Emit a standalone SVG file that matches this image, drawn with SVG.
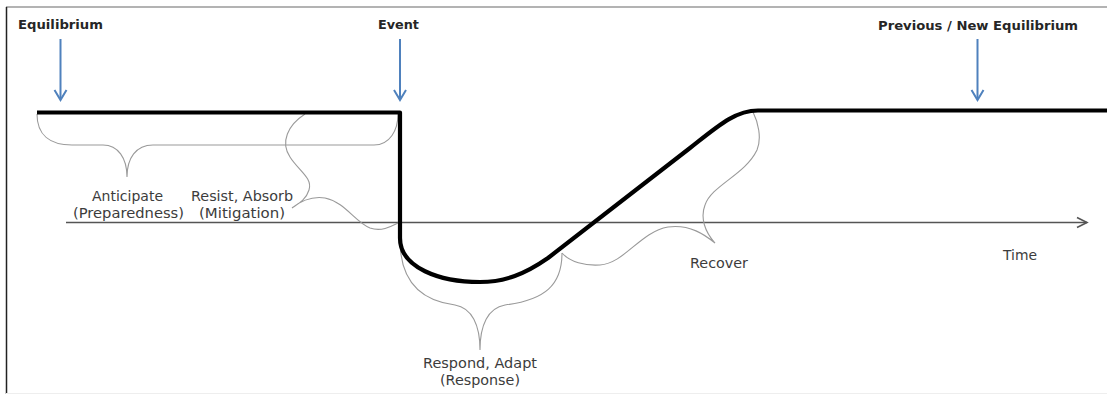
<svg xmlns="http://www.w3.org/2000/svg" width="1107" height="397" viewBox="0 0 1107 397">
<defs>
<style>
.lbl{font-family:"DejaVu Sans","Liberation Sans",sans-serif;font-size:14px;fill:#3c3c3c}
.hdr{font-family:"DejaVu Sans","Liberation Sans",sans-serif;font-size:12.5px;font-weight:bold;fill:#262626}
.brace{fill:none;stroke:#9a9a9a;stroke-width:1.1}
.blue{fill:none;stroke:#4f81bd;stroke-width:2}
</style>
</defs>
<rect x="0" y="0" width="1107" height="397" fill="#ffffff"/>
<g id="frame">
<line x1="6" y1="7" x2="1107" y2="7" stroke="#9a9a9a" stroke-width="1.5"/>
<line x1="6.5" y1="7" x2="6.5" y2="394" stroke="#222" stroke-width="1.5"/>
<line x1="6" y1="393.5" x2="1107" y2="393.5" stroke="#eeeeee" stroke-width="1"/>
</g>
<g id="connectors">
<g id="time-axis">
<line x1="66" y1="222.5" x2="1087" y2="222.5" stroke="#555" stroke-width="1.6"/>
<polyline points="1077,217.5 1087,222.5 1077,227.5" fill="none" stroke="#555" stroke-width="1.6"/>
</g>
<g id="arrows">
<line class="blue" x1="60.5" y1="39" x2="60.5" y2="99"/>
<polyline class="blue" points="54.5,90 60.5,100 66.5,90"/>
<line class="blue" x1="400" y1="39" x2="400" y2="99"/>
<polyline class="blue" points="394,90 400,100 406,90"/>
<line class="blue" x1="977.5" y1="39" x2="977.5" y2="99"/>
<polyline class="blue" points="971.5,90 977.5,100 983.5,90"/>
</g>
<g id="braces">
<path class="brace" d="M37,114 C37,135 50,145 72,145 H103 C118,145 127,158 127,177 C127,158 136,145 153,145 H374 C390,145 398,130 398,114"/>
<path class="brace" d="M305,114 C288,125 280,142 290,157 C298,170 313,178 309,190 C306,200 298,204 292,208 C302,200 312,196 325,198 C345,202 355,222 370,228 C382,232 392,226 398,223"/>
<path class="brace" d="M400,240 C400,275 415,300 455,305 C472,308 480,325 480,350 C480,325 488,308 505,305 C545,300 562,285 562,253"/>
<path class="brace" d="M562,253 C570,262 585,266 600,265 C625,263 640,232 668,227 C690,224 705,235 715,243 C705,232 700,218 705,205 C712,185 745,175 757,150 C762,138 758,122 753,112"/>
</g>
<path id="resilience-curve" d="M37,112.5 H400 V238 C400,268 440,282 480,282 C505,282 525,274 548,258 L690,148 C718,126 735,110.5 758,110.5 H1107" fill="none" stroke="#000" stroke-width="4.2" stroke-linejoin="round"/>
</g>
<g id="node-equilibrium"><text class="hdr" x="18" y="28.5" textLength="85" lengthAdjust="spacingAndGlyphs">Equilibrium</text></g>
<g id="node-event"><text class="hdr" x="378" y="28.5" textLength="41" lengthAdjust="spacingAndGlyphs">Event</text></g>
<g id="node-new-equilibrium"><text class="hdr" x="878" y="29.5" textLength="200" lengthAdjust="spacingAndGlyphs">Previous / New Equilibrium</text></g>
<g id="node-anticipate">
<text class="lbl" x="92" y="200.5" textLength="71" lengthAdjust="spacingAndGlyphs">Anticipate</text>
<text class="lbl" x="73" y="218" textLength="111" lengthAdjust="spacingAndGlyphs">(Preparedness)</text>
</g>
<g id="node-resist">
<text class="lbl" x="191" y="200.5" textLength="102" lengthAdjust="spacingAndGlyphs">Resist, Absorb</text>
<text class="lbl" x="199" y="218" textLength="86" lengthAdjust="spacingAndGlyphs">(Mitigation)</text>
</g>
<g id="node-respond">
<text class="lbl" x="423" y="368" textLength="114" lengthAdjust="spacingAndGlyphs">Respond, Adapt</text>
<text class="lbl" x="440" y="385" textLength="80" lengthAdjust="spacingAndGlyphs">(Response)</text>
</g>
<g id="node-recover"><text class="lbl" x="690" y="268" textLength="58" lengthAdjust="spacingAndGlyphs">Recover</text></g>
<g id="node-time"><text class="lbl" x="1003" y="260" textLength="34" lengthAdjust="spacingAndGlyphs">Time</text></g>
</svg>
